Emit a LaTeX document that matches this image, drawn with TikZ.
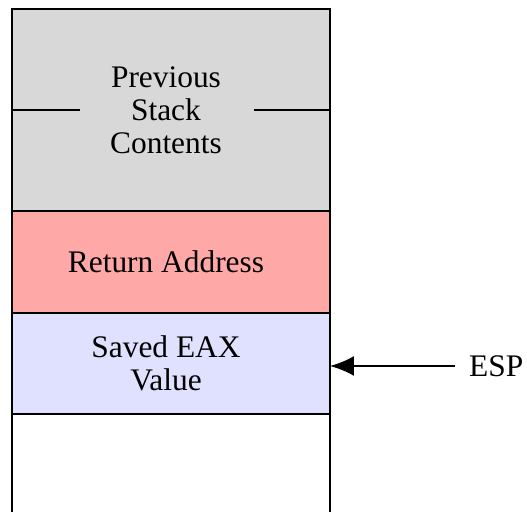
\documentclass[tikz,border=0pt]{standalone}
\usepackage{fontspec}
\setmainfont{Liberation Serif}
\usetikzlibrary{arrows.meta}
\definecolor{stackgray}{RGB}{216,216,216}
\definecolor{retred}{RGB}{255,168,168}
\definecolor{eaxblue}{RGB}{224,224,255}
\begin{document}
\begin{tikzpicture}[x=0.5pt,y=-0.5pt,line width=1.2pt,
  lbl/.style={font=\fontsize{15.7}{16.5}\selectfont},
  cell/.style={draw=black,minimum width=159pt,inner sep=0pt,outer sep=0pt,anchor=north west},
  celltext/.style={lbl,inner sep=0pt,align=center,xshift=-2.5pt}]
\useasboundingbox (0,0) rectangle (527,512);
\node[cell,fill=stackgray,minimum height=101pt] (prev) at (12,9) {};
\node[cell,fill=retred,minimum height=51pt] (ret) at (12,211) {};
\node[cell,fill=eaxblue,minimum height=50.5pt] (eax) at (12,313) {};
\node[celltext] (prevt) at (prev.center) {Previous\\Stack\\Contents};
\node[celltext] (rett) at (ret.center) {Return Address};
\node[celltext] (eaxt) at (eax.center) {Saved EAX\\Value};
\coordinate (bot) at (12,520);
\draw (eax.south west) -- (eax.south west |- bot);
\draw (eax.south east) -- (eax.south east |- bot);
\coordinate (dl) at (80,110);
\coordinate (dr) at (254,110);
\draw (prev.west) -- (prev.west -| dl);
\draw (prev.east -| dr) -- (prev.east);
\node[lbl,inner sep=0pt,anchor=west] (esp) at (468,366) {ESP};
\draw[line width=1pt,-{Latex[length=12pt,width=10pt]}] ([xshift=-6.5pt]esp.west) -- (eax.east |- esp.west);
\end{tikzpicture}
\end{document}
